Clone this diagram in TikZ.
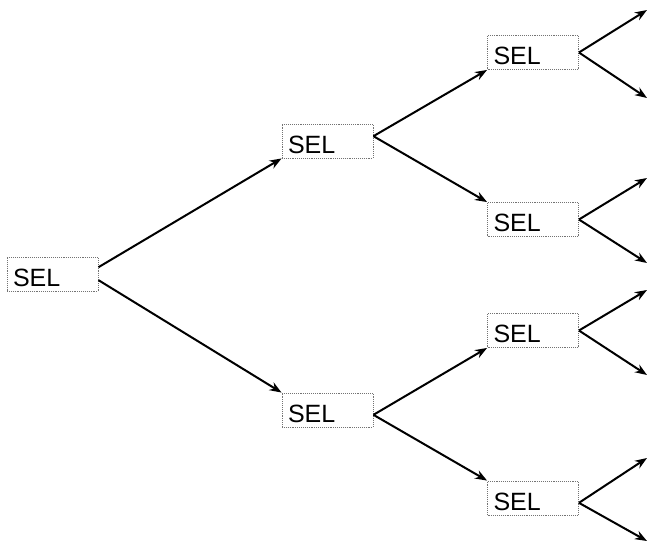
\documentclass[tikz,border=0pt]{standalone}
\usepackage{fontspec}
\setmainfont{Liberation Sans}
\usetikzlibrary{arrows.meta}
\begin{document}
\begin{tikzpicture}[x=1pt,y=1pt,
  selbox/.style={draw=black!55, densely dotted, line width=0.9pt,
    minimum width=91pt, minimum height=34pt, text width=79pt,
    inner xsep=6pt, align=left, text height=24pt, text depth=0pt,
    font=\fontsize{25}{28}\selectfont},
  link/.style={line width=2pt, -{Stealth[length=12pt,width=9pt]}}]
  \useasboundingbox (0,0) rectangle (648,-549);

  % selector boxes
  \node[selbox] (root) at (52.5,-274.5) {SEL};
  \node[selbox] (l1a) at (327.5,-141) {SEL};
  \node[selbox] (l1b) at (327.5,-410) {SEL};
  \node[selbox] (l2a) at (533,-52.5) {SEL};
  \node[selbox] (l2b) at (533,-219.5) {SEL};
  \node[selbox] (l2c) at (533,-330.5) {SEL};
  \node[selbox] (l2d) at (533,-498) {SEL};

  % open outputs on the right
  \coordinate (o1) at (647,-10);
  \coordinate (o2) at (647,-98);
  \coordinate (o3) at (647,-178);
  \coordinate (o4) at (647,-263);
  \coordinate (o5) at (647,-290);
  \coordinate (o6) at (647,-375);
  \coordinate (o7) at (647,-458);
  \coordinate (o8) at (647,-541);

  % branches
  \draw[link] (root.9) -- (l1a.south west);
  \draw[link] (root.-7) -- (l1b.north west);
  \draw[link] (l1a.6) -- (l2a.south west);
  \draw[link] (l1a.6) -- (l2b.north west);
  \draw[link] (l1b.-6) -- (l2c.south west);
  \draw[link] (l1b.-6) -- (l2d.north west);
  \draw[link] (l2a.east) -- (o1);
  \draw[link] (l2a.east) -- (o2);
  \draw[link] (l2b.east) -- (o3);
  \draw[link] (l2b.east) -- (o4);
  \draw[link] (l2c.east) -- (o5);
  \draw[link] (l2c.east) -- (o6);
  \draw[link] (l2d.-6) -- (o7);
  \draw[link] (l2d.-6) -- (o8);
\end{tikzpicture}
\end{document}
